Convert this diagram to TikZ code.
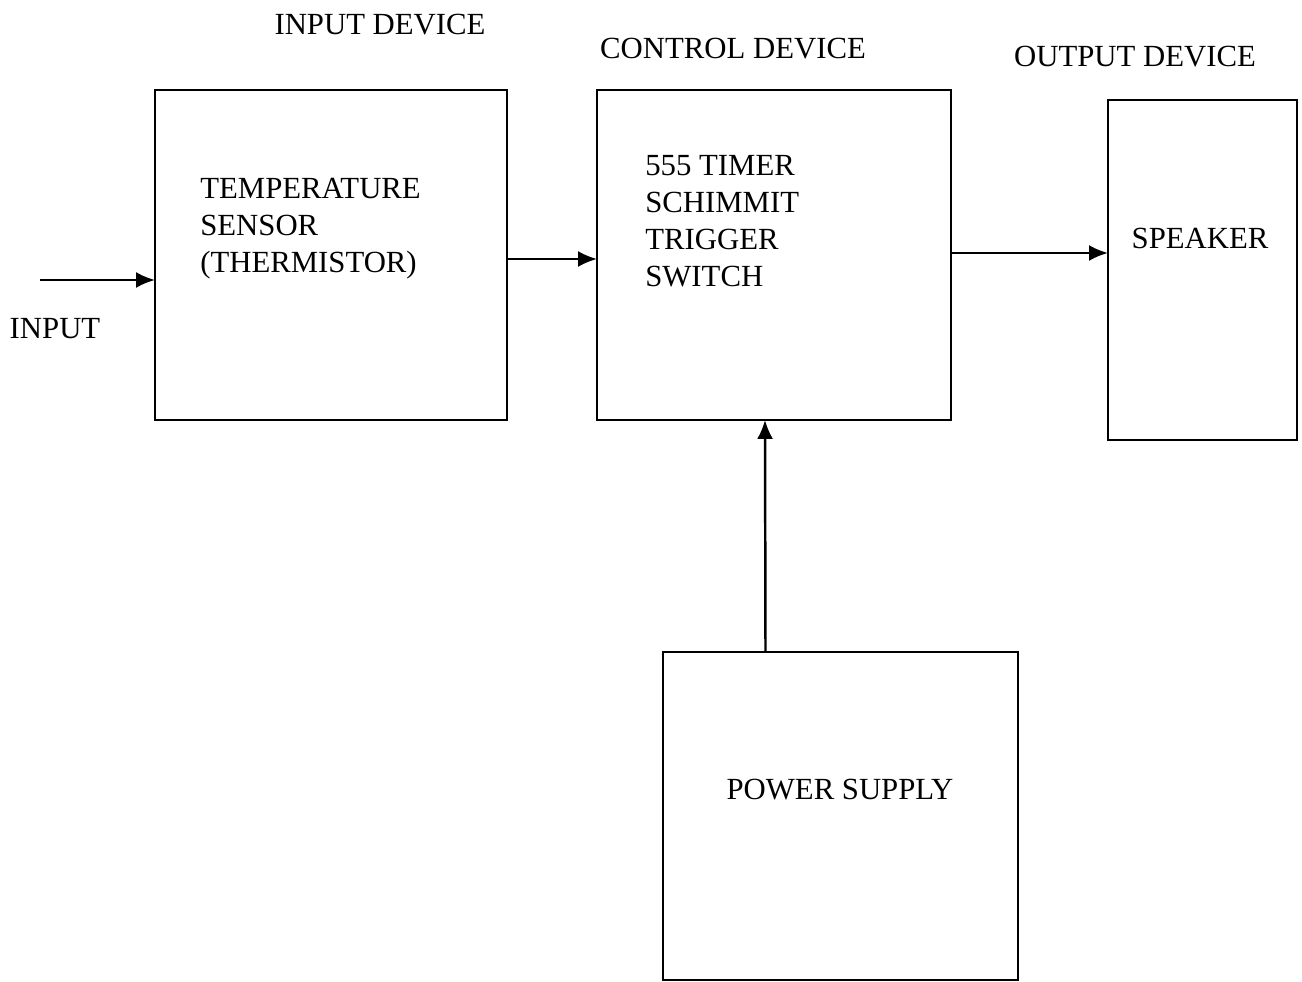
\documentclass[tikz,border=0pt]{standalone}
\usepackage{fontspec}
\setmainfont{Liberation Serif}
\usepackage{tikz}
\usetikzlibrary{arrows.meta, positioning, calc}

\begin{document}
\begin{tikzpicture}[x=0.02cm, y=-0.02cm]
				% Styles
				\tikzstyle{block} = [draw, line width=1.5pt, rectangle, inner sep=0pt, outer sep=0pt]
				\tikzstyle{txt} = [inner sep=0pt, align=left, font=\fontsize{17.5}{21}\selectfont]
				\tikzstyle{arrow} = [line width=1.4pt, -{Latex[length=3.8mm, width=3.2mm]}]

				\useasboundingbox (0,0) rectangle (1302,982);

				% Nodes
				\node (sensor) [block, minimum width=7.04cm, minimum height=6.6cm] at (331,255) {};
				\node (control) [block, minimum width=7.08cm, minimum height=6.6cm] at (774,255) {};
				\node (speaker) [block, minimum width=3.78cm, minimum height=6.8cm] at (1202.5,270) {};
				\node (power) [block, minimum width=7.1cm, minimum height=6.56cm] at (840.5,816) {};

				\node (ttlin) [txt] at (380,25) {INPUT DEVICE};
				\node (ttlctl) [txt] at (733,49) {CONTROL DEVICE};
				\node (ttlout) [txt] at (1135,57) {OUTPUT DEVICE};

				\node (sensortxt) [txt, anchor=west] at (200,229) {TEMPERATURE\\SENSOR\\(THERMISTOR)};
				\node (controltxt) [txt, anchor=west] at (645,221) {555 TIMER\\SCHIMMIT\\TRIGGER\\SWITCH};
				\node (speakertxt) [txt] at (1200,238) {SPEAKER};
				\node (powertxt) [txt] at (840,790) {POWER SUPPLY};
				\node (inputtxt) [txt] at (55,329) {INPUT};

				\coordinate (in) at (40,280);

				% Connections
				\draw [arrow] (in) -- (in -| sensor.west);
				\draw [arrow] (sensor.east |- 0,259) -- (control.west |- 0,259);
				\draw [arrow] (control.east |- 0,253) -- (speaker.west |- 0,253);
				\draw [arrow] ($(power.north)+(-75,0)$) -- ($(control.south)+(-9,0)$);

\end{tikzpicture}
\end{document}
